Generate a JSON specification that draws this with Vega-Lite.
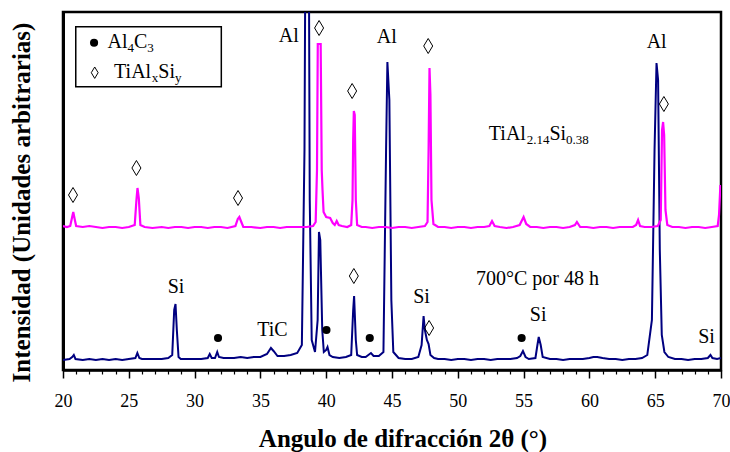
{
  "$schema": "https://vega.github.io/schema/vega-lite/v6.json",
  "width": 658,
  "height": 358,
  "autosize": {"type": "none"},
  "padding": {"left": 63, "top": 12, "right": 9, "bottom": 82},
  "background": "white",
  "config": {
    "view": {"stroke": "#000", "strokeWidth": 2.5},
    "font": "Liberation Serif"
  },
  "datasets": {
    "blue": [
      {"a":20,"i":10},{"a":20.5,"i":11},{"a":20.7,"i":13},{"a":20.82,"i":15},{"a":20.95,"i":11},{"a":21.5,"i":10},{"a":22,"i":11},{"a":22.5,"i":10},{"a":23,"i":11},{"a":23.5,"i":10},{"a":24,"i":11},{"a":24.5,"i":10},{"a":25,"i":11},{"a":25.5,"i":12},{"a":25.65,"i":17},{"a":25.8,"i":12},{"a":26,"i":11},{"a":26.5,"i":11},{"a":27,"i":11},{"a":27.5,"i":11},{"a":28,"i":12},{"a":28.3,"i":15},{"a":28.45,"i":60},{"a":28.55,"i":66},{"a":28.65,"i":40},{"a":28.78,"i":13},{"a":28.95,"i":11},{"a":29.5,"i":11},{"a":30,"i":11},{"a":30.5,"i":11},{"a":31,"i":12},{"a":31.15,"i":16},{"a":31.3,"i":12},{"a":31.55,"i":12},{"a":31.72,"i":18},{"a":31.85,"i":13},{"a":32.2,"i":12},{"a":33,"i":12},{"a":33.5,"i":13},{"a":34,"i":12},{"a":34.5,"i":13},{"a":35,"i":13},{"a":35.5,"i":16},{"a":35.8,"i":22},{"a":36,"i":19},{"a":36.3,"i":14},{"a":36.8,"i":14},{"a":37.3,"i":15},{"a":37.8,"i":17},{"a":38.15,"i":25},{"a":38.35,"i":220},{"a":38.42,"i":430},{"a":38.68,"i":430},{"a":38.75,"i":170},{"a":38.9,"i":30},{"a":39.15,"i":18},{"a":39.35,"i":50},{"a":39.45,"i":138},{"a":39.55,"i":130},{"a":39.7,"i":40},{"a":39.82,"i":18},{"a":40,"i":20},{"a":40.1,"i":23},{"a":40.25,"i":15},{"a":40.5,"i":13},{"a":41,"i":12},{"a":41.5,"i":13},{"a":41.9,"i":15},{"a":42.05,"i":60},{"a":42.12,"i":74},{"a":42.25,"i":30},{"a":42.35,"i":15},{"a":42.7,"i":13},{"a":43,"i":13},{"a":43.4,"i":17},{"a":43.6,"i":14},{"a":44,"i":14},{"a":44.35,"i":18},{"a":44.55,"i":220},{"a":44.65,"i":308},{"a":44.8,"i":270},{"a":44.95,"i":70},{"a":45.1,"i":18},{"a":45.5,"i":12},{"a":46,"i":11},{"a":46.5,"i":11},{"a":47,"i":13},{"a":47.25,"i":25},{"a":47.4,"i":54},{"a":47.5,"i":40},{"a":47.65,"i":30},{"a":47.78,"i":26},{"a":47.92,"i":15},{"a":48.2,"i":12},{"a":48.5,"i":11},{"a":49,"i":11},{"a":49.5,"i":10},{"a":50,"i":11},{"a":50.5,"i":11},{"a":51,"i":10},{"a":51.5,"i":11},{"a":52,"i":11},{"a":52.5,"i":10},{"a":53,"i":11},{"a":53.5,"i":11},{"a":54,"i":11},{"a":54.5,"i":12},{"a":54.75,"i":14},{"a":54.95,"i":19},{"a":55.15,"i":13},{"a":55.4,"i":11},{"a":55.9,"i":12},{"a":56.05,"i":25},{"a":56.15,"i":33},{"a":56.3,"i":25},{"a":56.45,"i":13},{"a":57,"i":11},{"a":57.5,"i":11},{"a":58,"i":10},{"a":58.5,"i":11},{"a":59,"i":11},{"a":59.5,"i":11},{"a":60,"i":12},{"a":60.3,"i":13},{"a":60.6,"i":13},{"a":61,"i":12},{"a":61.5,"i":11},{"a":62,"i":11},{"a":62.5,"i":10},{"a":63,"i":11},{"a":63.5,"i":11},{"a":64,"i":12},{"a":64.4,"i":15},{"a":64.75,"i":50},{"a":64.95,"i":220},{"a":65.1,"i":307},{"a":65.22,"i":290},{"a":65.35,"i":120},{"a":65.5,"i":35},{"a":65.7,"i":18},{"a":66,"i":13},{"a":66.5,"i":11},{"a":67,"i":11},{"a":67.5,"i":10},{"a":68,"i":11},{"a":68.5,"i":11},{"a":69,"i":12},{"a":69.2,"i":15},{"a":69.35,"i":12},{"a":69.7,"i":11},{"a":70,"i":12}
    ],
    "mag": [
      {"a":20,"i":144},{"a":20.3,"i":143},{"a":20.55,"i":144},{"a":20.68,"i":152},{"a":20.78,"i":158},{"a":20.9,"i":150},{"a":21,"i":144},{"a":21.5,"i":143},{"a":22,"i":144},{"a":22.5,"i":143},{"a":23,"i":142},{"a":23.5,"i":143},{"a":24,"i":143},{"a":24.5,"i":142},{"a":25,"i":143},{"a":25.45,"i":145},{"a":25.58,"i":170},{"a":25.66,"i":182},{"a":25.76,"i":172},{"a":25.88,"i":145},{"a":26.2,"i":143},{"a":26.8,"i":142},{"a":27.5,"i":143},{"a":28,"i":142},{"a":28.5,"i":143},{"a":29,"i":143},{"a":29.5,"i":142},{"a":30,"i":143},{"a":30.5,"i":143},{"a":31,"i":142},{"a":31.5,"i":143},{"a":32,"i":143},{"a":32.5,"i":142},{"a":33.1,"i":144},{"a":33.28,"i":151},{"a":33.4,"i":153},{"a":33.55,"i":148},{"a":33.7,"i":143},{"a":34.3,"i":143},{"a":35,"i":142},{"a":35.5,"i":143},{"a":36,"i":143},{"a":36.5,"i":142},{"a":37,"i":143},{"a":37.5,"i":143},{"a":38,"i":143},{"a":38.5,"i":143},{"a":39,"i":144},{"a":39.2,"i":148},{"a":39.3,"i":200},{"a":39.36,"i":326},{"a":39.58,"i":326},{"a":39.66,"i":200},{"a":39.72,"i":180},{"a":39.8,"i":158},{"a":40,"i":153},{"a":40.3,"i":152},{"a":40.5,"i":147},{"a":40.65,"i":145},{"a":40.8,"i":149},{"a":40.95,"i":145},{"a":41.2,"i":144},{"a":41.6,"i":143},{"a":41.9,"i":145},{"a":42,"i":170},{"a":42.05,"i":230},{"a":42.1,"i":259},{"a":42.17,"i":255},{"a":42.25,"i":170},{"a":42.35,"i":145},{"a":42.7,"i":143},{"a":43,"i":143},{"a":43.5,"i":142},{"a":44,"i":143},{"a":44.5,"i":143},{"a":45,"i":142},{"a":45.5,"i":143},{"a":46,"i":143},{"a":46.5,"i":142},{"a":47,"i":143},{"a":47.5,"i":144},{"a":47.7,"i":148},{"a":47.78,"i":220},{"a":47.85,"i":302},{"a":47.92,"i":275},{"a":48,"i":170},{"a":48.15,"i":146},{"a":48.5,"i":143},{"a":49,"i":143},{"a":49.5,"i":142},{"a":50,"i":143},{"a":50.5,"i":143},{"a":51,"i":142},{"a":51.5,"i":143},{"a":52,"i":143},{"a":52.4,"i":144},{"a":52.6,"i":149},{"a":52.8,"i":144},{"a":53.2,"i":143},{"a":53.7,"i":142},{"a":54.2,"i":143},{"a":54.7,"i":145},{"a":55,"i":153},{"a":55.2,"i":146},{"a":55.5,"i":143},{"a":56,"i":143},{"a":56.5,"i":142},{"a":57,"i":143},{"a":57.5,"i":143},{"a":58,"i":142},{"a":58.5,"i":143},{"a":58.9,"i":145},{"a":59.05,"i":148},{"a":59.3,"i":143},{"a":59.8,"i":143},{"a":60.3,"i":142},{"a":60.8,"i":143},{"a":61.3,"i":143},{"a":61.8,"i":142},{"a":62.3,"i":143},{"a":62.8,"i":143},{"a":63.3,"i":143},{"a":63.55,"i":145},{"a":63.7,"i":150},{"a":63.85,"i":144},{"a":64.2,"i":143},{"a":64.7,"i":143},{"a":65.2,"i":144},{"a":65.42,"i":150},{"a":65.52,"i":240},{"a":65.6,"i":248},{"a":65.68,"i":235},{"a":65.78,"i":160},{"a":65.92,"i":145},{"a":66.3,"i":143},{"a":66.8,"i":143},{"a":67.3,"i":142},{"a":67.8,"i":143},{"a":68.3,"i":143},{"a":68.8,"i":142},{"a":69.3,"i":143},{"a":69.75,"i":144},{"a":69.85,"i":155},{"a":69.95,"i":184},{"a":70,"i":184}
    ],
    "dots": [
      {"a":31.78,"i":32},{"a":40.02,"i":40},{"a":43.31,"i":32},{"a":54.85,"i":32}
    ],
    "dias": [
      {"a":20.76,"i":175},{"a":25.58,"i":202},{"a":33.3,"i":172},{"a":39.46,"i":342},{"a":41.97,"i":279},{"a":47.75,"i":324},{"a":65.66,"i":266},{"a":42.1,"i":94},{"a":47.82,"i":42}
    ],
    "legbox": [{"a":20.97,"a2":32.03,"i":283.3,"i2":343.3}],
    "legdot": [{"a":22.36,"i":327.3}],
    "legdia": [{"a":22.41,"i":297.3}],
    "lab": [
      {"a":37.16,"i":328,"t":"Al"},{"a":44.61,"i":327,"t":"Al"},{"a":65.11,"i":322,"t":"Al"},{"a":28.59,"i":77,"t":"Si"},{"a":35.92,"i":34,"t":"TiC"},{"a":47.24,"i":67,"t":"Si"},{"a":56.11,"i":49,"t":"Si"},{"a":68.9,"i":27,"t":"Si"},{"a":56.05,"i":85,"t":"700°C por 48 h"}
    ],
    "seg": [
      {"a":23.38,"i":321.7,"t":"Al"},{"a":25.39,"i":321.7,"t":"C"},{"a":23.88,"i":291.7,"t":"TiAl"},{"a":27.24,"i":291.7,"t":"Si"},{"a":52.36,"i":230,"t":"TiAl"},{"a":56.96,"i":230,"t":"Si"}
    ],
    "sub": [
      {"a":24.9,"i":321.7,"t":"4"},{"a":26.4,"i":321.7,"t":"3"},{"a":26.75,"i":291.7,"t":"x"},{"a":28.51,"i":291.7,"t":"y"},{"a":55.23,"i":230,"t":"2.14"},{"a":58.23,"i":230,"t":"0.38"}
    ]
  },
  "layer": [
    {
      "data": {"name": "blue"},
      "mark": {"type": "line", "color": "#000080", "strokeWidth": 2, "clip": true},
      "encoding": {
        "x": {"field": "a", "type": "quantitative", "scale": {"domain": [20, 70], "nice": false, "zero": false},
          "axis": {"orient": "bottom", "values": [20,25,30,35,40,45,50,55,60,65,70], "grid": false, "tickSize": 8, "tickWidth": 1.5, "tickColor": "#000", "domainWidth": 2.5, "domainColor": "#000", "labelFont": "Liberation Serif", "labelFontSize": 18, "labelColor": "#000", "labelPadding": 14, "labelFlush": false,
            "title": "Angulo de difracción 2θ (°)", "titleFont": "Liberation Serif", "titleFontSize": 25, "titleFontWeight": "bold", "titleColor": "#000", "titleX": 339.5, "titleY": 76, "titleBaseline": "alphabetic", "titleAlign": "center"}},
        "y": {"field": "i", "type": "quantitative", "scale": {"domain": [0, 358], "nice": false},
          "axis": {"title": "Intensidad (Unidades arbitrarias)", "labels": false, "ticks": false, "grid": false, "domainWidth": 3, "domainColor": "#000", "titleFont": "Liberation Serif", "titleFontSize": 25, "titleFontWeight": "bold", "titleColor": "#000", "titleX": -34, "titleY": 190, "titleBaseline": "alphabetic", "titleAngle": -90, "titleAlign": "center"}}
      }
    },
    {
      "data": {"name": "mag"},
      "mark": {"type": "line", "color": "#FF00FF", "strokeWidth": 2.2, "clip": true},
      "encoding": {
        "x": {"field": "a", "type": "quantitative",
          "axis": {"orient": "bottom", "values": [21,22,23,24,26,27,28,29,31,32,33,34,36,37,38,39,41,42,43,44,46,47,48,49,51,52,53,54,56,57,58,59,61,62,63,64,66,67,68,69], "grid": false, "tickSize": 4, "tickWidth": 1.2, "tickColor": "#000", "labels": false, "domain": false, "title": null}},
        "y": {"field": "i", "type": "quantitative"}
      }
    },
    {
      "data": {"name": "legbox"},
      "mark": {"type": "rect", "fill": "white", "stroke": "#000", "strokeWidth": 1.5},
      "encoding": {
        "x": {"field": "a", "type": "quantitative", "axis": null},
        "x2": {"field": "a2"},
        "y": {"field": "i", "type": "quantitative"},
        "y2": {"field": "i2"}
      }
    },
    {
      "data": {"name": "dots"},
      "mark": {"type": "point", "shape": "circle", "filled": true, "color": "#000", "size": 66, "opacity": 1},
      "encoding": {
        "x": {"field": "a", "type": "quantitative", "axis": null},
        "y": {"field": "i", "type": "quantitative"}
      }
    },
    {
      "data": {"name": "legdot"},
      "mark": {"type": "point", "shape": "circle", "filled": true, "color": "#000", "size": 66, "opacity": 1},
      "encoding": {
        "x": {"field": "a", "type": "quantitative", "axis": null},
        "y": {"field": "i", "type": "quantitative"}
      }
    },
    {
      "data": {"name": "dias"},
      "mark": {"type": "point", "shape": "M0,-1L0.6,0L0,1L-0.6,0Z", "filled": false, "stroke": "#000", "strokeWidth": 1, "size": 225, "opacity": 1},
      "encoding": {
        "x": {"field": "a", "type": "quantitative", "axis": null},
        "y": {"field": "i", "type": "quantitative"}
      }
    },
    {
      "data": {"name": "legdia"},
      "mark": {"type": "point", "shape": "M0,-1L0.6,0L0,1L-0.6,0Z", "filled": false, "stroke": "#000", "strokeWidth": 1, "size": 130, "opacity": 1},
      "encoding": {
        "x": {"field": "a", "type": "quantitative", "axis": null},
        "y": {"field": "i", "type": "quantitative"}
      }
    },
    {
      "data": {"name": "lab"},
      "mark": {"type": "text", "font": "Liberation Serif", "fontSize": 20, "color": "#000", "align": "center", "baseline": "alphabetic"},
      "encoding": {
        "x": {"field": "a", "type": "quantitative", "axis": null},
        "y": {"field": "i", "type": "quantitative"},
        "text": {"field": "t"}
      }
    },
    {
      "data": {"name": "seg"},
      "mark": {"type": "text", "font": "Liberation Serif", "fontSize": 20, "color": "#000", "align": "left", "baseline": "alphabetic"},
      "encoding": {
        "x": {"field": "a", "type": "quantitative", "axis": null},
        "y": {"field": "i", "type": "quantitative"},
        "text": {"field": "t"}
      }
    },
    {
      "data": {"name": "sub"},
      "mark": {"type": "text", "font": "Liberation Serif", "fontSize": 13, "color": "#000", "align": "left", "baseline": "alphabetic", "dy": 4},
      "encoding": {
        "x": {"field": "a", "type": "quantitative", "axis": null},
        "y": {"field": "i", "type": "quantitative"},
        "text": {"field": "t"}
      }
    }
  ],
  "resolve": {"axis": {"x": "independent"}}
}
